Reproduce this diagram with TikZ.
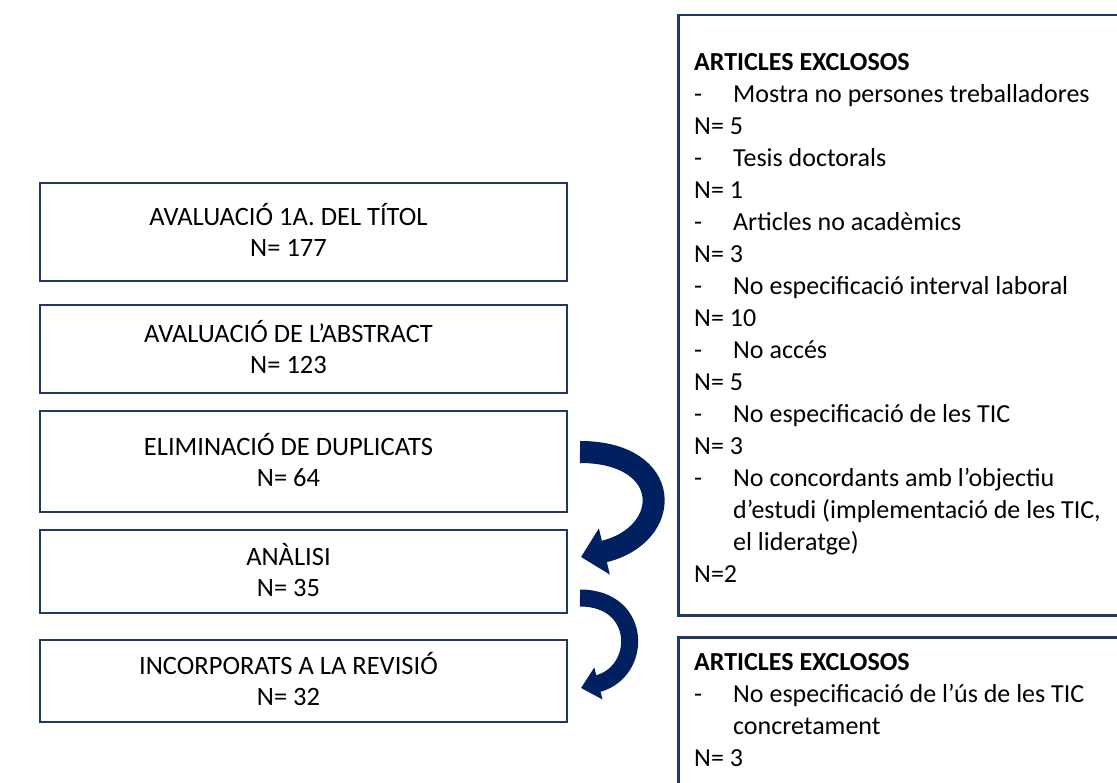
\documentclass[tikz,border=0pt]{standalone}
\usepackage{fontspec}
\setmainfont{Carlito}
\usepackage{xcolor}
\definecolor{boxBlue}{RGB}{32, 56, 100}
\definecolor{arrowBlue}{RGB}{0, 32, 96}
\usepackage{tikz}
\usetikzlibrary{positioning,arrows.meta}

\newcommand{\stagetext}[2]{\raisebox{-3pt}[\height][\depth]{\begin{tabular}{@{}c@{}}#1\\#2\end{tabular}}\rule{30pt}{0pt}}

\tikzset{
  stagebox/.style={draw=boxBlue, line width=2.5pt, minimum width=527pt, inner sep=0pt},
  bigarrow/.style={draw=arrowBlue, line cap=butt},
}

\begin{document}
\begin{tikzpicture}[x=1pt, y=-1pt, font=\fontsize{26.5}{31}\selectfont]
\useasboundingbox (0,0) rectangle (1117,783);

% stages of the review
\node[stagebox, minimum height=98pt] (titol) at (303.5,232) {\stagetext{AVALUACIÓ 1A. DEL TÍTOL}{N= 177}};
\node[stagebox, minimum height=88pt] (abstract) at (303.5,349) {\stagetext{AVALUACIÓ DE L’ABSTRACT}{N= 123}};
\node[stagebox, minimum height=101pt] (duplicats) at (303.5,461.5) {\stagetext{ELIMINACIÓ DE DUPLICATS}{N= 64}};
\node[stagebox, minimum height=83pt] (analisi) at (303.5,571.5) {\stagetext{ANÀLISI}{N= 35}};
\node[stagebox, minimum height=82pt] (revisio) at (303.5,681) {\stagetext{INCORPORATS A LA REVISIÓ}{N= 32}};

% excluded articles
\node[draw=boxBlue, line width=2.5pt, anchor=north west, minimum width=480pt, minimum height=600pt, inner sep=0pt] (exclosos1) at (677,14) {};
\node[draw=boxBlue, line width=2.5pt, anchor=north west, minimum width=480pt, minimum height=200pt, inner sep=0pt] (exclosos2) at (677,636) {};

\node[anchor=base west, inner sep=0pt, font=\fontsize{26}{32}\selectfont] (llista1) at (694,71) {%
\begin{tabular}[t]{@{}p{39pt}@{}p{390pt}@{}}
\multicolumn{2}{@{}l@{}}{\textbf{ARTICLES EXCLOSOS}}\\
- & Mostra no persones treballadores\\
\multicolumn{2}{@{}l@{}}{N= 5}\\
- & Tesis doctorals\\
\multicolumn{2}{@{}l@{}}{N= 1}\\
- & Articles no acadèmics\\
\multicolumn{2}{@{}l@{}}{N= 3}\\
- & No especificació interval laboral\\
\multicolumn{2}{@{}l@{}}{N= 10}\\
- & No accés\\
\multicolumn{2}{@{}l@{}}{N= 5}\\
- & No especificació de les TIC\\
\multicolumn{2}{@{}l@{}}{N= 3}\\
- & No concordants amb l’objectiu\newline d’estudi (implementació de les TIC,\newline el lideratge)\\
\multicolumn{2}{@{}l@{}}{N=2}\\
\end{tabular}};

\node[anchor=base west, inner sep=0pt, font=\fontsize{26}{32}\selectfont] (llista2) at (694,670) {%
\begin{tabular}[t]{@{}p{39pt}@{}p{390pt}@{}}
\multicolumn{2}{@{}l@{}}{\textbf{ARTICLES EXCLOSOS}}\\
- & No especificació de l’ús de les TIC\newline concretament\\
\multicolumn{2}{@{}l@{}}{N= 3}\\
\end{tabular}};

% curved arrows
\coordinate (a1s) at (580,452);
\coordinate (a1e) at (581,557);
\coordinate (a2s) at (580,598);
\coordinate (a2e) at (581,688);
\draw[bigarrow, line width=22pt, -{Triangle[length=24pt, width=46pt]}] (a1s) .. controls (674,452) and (674,535) .. (a1e);
\draw[bigarrow, line width=17pt, -{Triangle[length=18pt, width=32pt]}] (a2s) .. controls (643,598) and (643,672) .. (a2e);
\end{tikzpicture}
\end{document}
